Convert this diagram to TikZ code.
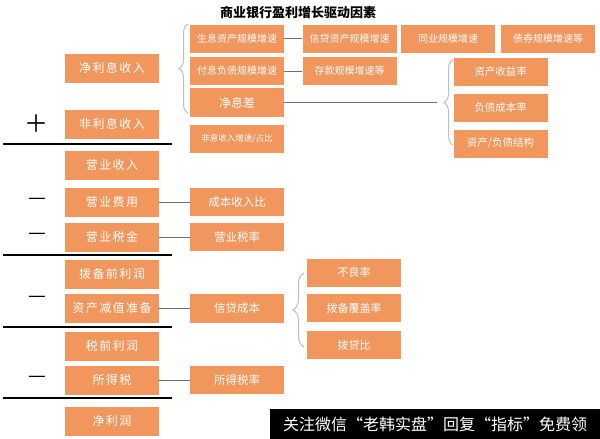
\documentclass[tikz,border=0pt]{standalone}
\usepackage{fontspec}
\setmainfont{Noto Sans CJK SC}
\usepackage{xcolor}
\definecolor{bankorange}{RGB}{241,150,92}
\definecolor{linkgray}{RGB}{110,110,110}
\definecolor{bracegray}{RGB}{190,190,190}
\usetikzlibrary{decorations.pathreplacing}

\tikzset{
  mainbox/.style={fill=bankorange, text=white, minimum width=94pt, minimum height=29pt,
                  inner sep=0pt, font=\fontsize{12}{14}\selectfont\addfontfeature{LetterSpace=12}},
  subbox/.style={fill=bankorange, text=white, minimum width=94pt, minimum height=28pt,
                 inner sep=0pt, font=\fontsize{10}{12}\selectfont},
  link/.style={draw=linkgray, line width=0.8pt},
  sepline/.style={draw=black, line width=1.8pt},
  bracket/.style={draw=bracegray, line width=1pt, decorate,
                  decoration={brace, amplitude=9pt}},
  sign/.style={font=\fontsize{20}{20}\selectfont, inner sep=0pt}
}

\begin{document}
\begin{tikzpicture}[x=1pt, y=-1pt]
\useasboundingbox[fill=white] (0,0) rectangle (600,439);

\node[font=\fontsize{13}{15}\selectfont\bfseries] (title) at (298,13) {商业银行盈利增长驱动因素};

% === Income statement column ===
\node[mainbox] (netint) at (112,68) {净利息收入};
\node[mainbox] (nonint) at (112,124) {非利息收入};
\node[mainbox] (oprev) at (112,165) {营业收入};
\node[mainbox] (opexp) at (112,202) {营业费用};
\node[mainbox] (optax) at (112,237) {营业税金};
\node[mainbox] (ppop) at (112,274) {拨备前利润};
\node[mainbox] (impair) at (112,308) {资产减值准备};
\node[mainbox] (pretax) at (112,346) {税前利润};
\node[mainbox] (inctax) at (112,380) {所得税};
\node[mainbox] (netprofit) at (112,421) {净利润};

% Signs and sum lines
\node[sign, font=\fontsize{24}{24}\selectfont] (plus) at (36,124) {＋};
\node[sign] (minusa) at (37,201) {—};
\node[sign] (minusb) at (37,236) {—};
\node[sign] (minusc) at (37,299) {—};
\node[sign] (minusd) at (37,379) {—};
\draw[sepline] (3,144) -- (172,144);
\draw[sepline] (3,255) -- (172,255);
\draw[sepline] (3,327) -- (172,327);
\draw[sepline] (3,398) -- (172,398);

% === Drivers ===
\node[subbox] (iea) at (237,38.5) {生息资产规模增速};
\node[subbox] (ibl) at (237,71) {付息负债规模增速};
\node[subbox, minimum height=29pt, font=\fontsize{12}{14}\selectfont] (nim) at (237,102.5) {净息差};
\node[subbox, font=\fontsize{8.5}{10}\selectfont] (nonintg) at (237,139) {非息收入增速/占比};
\node[subbox, font=\fontsize{11.5}{13}\selectfont] (cir) at (237,202) {成本收入比};
\node[subbox, font=\fontsize{11.5}{13}\selectfont] (taxrate) at (237,237) {营业税率};
\node[subbox, minimum height=29pt, font=\fontsize{11.5}{13}\selectfont] (credcost) at (237,308) {信贷成本};
\node[subbox, font=\fontsize{11.5}{13}\selectfont] (inctaxrate) at (237,380) {所得税率};

% Scale growth
\node[subbox] (loang) at (349.5,38.5) {信贷资产规模增速};
\node[subbox] (interbank) at (448,38.5) {同业规模增速};
\node[subbox] (bondg) at (548,38.5) {债券规模增速等};
\node[subbox] (depg) at (349.5,71) {存款规模增速等};

% Margin
\node[subbox, font=\fontsize{10.5}{12}\selectfont] (roa) at (500.5,72) {资产收益率};
\node[subbox, font=\fontsize{10.5}{12}\selectfont] (cof) at (500.5,107.5) {负债成本率};
\node[subbox, font=\fontsize{10.5}{12}\selectfont] (assetmix) at (500.5,143.5) {资产/负债结构};

% Credit quality
\node[subbox, font=\fontsize{11}{13}\selectfont] (npl) at (354,272.5) {不良率};
\node[subbox, font=\fontsize{11}{13}\selectfont] (cover) at (354,308) {拨备覆盖率};
\node[subbox, font=\fontsize{11}{13}\selectfont] (ldr) at (354,345) {拨贷比};

% Connectors
\draw[link] (iea) -- (loang);
\draw[link] (ibl) -- (depg);
\coordinate (nimend) at (437,102.5);
\draw[link] (nim) -- (nimend);
\draw[link] (opexp) -- (cir);
\draw[link] (optax) -- (taxrate);
\draw[link] (impair) -- (credcost);
\draw[link] (inctax) -- (inctaxrate);

% Braces
\draw[bracket] (188,113) -- (188,24);
\draw[bracket] (453,145) -- (453,60);
\draw[bracket, decoration={brace, amplitude=11pt}] (304,347) -- (304,273);

% Footer band
\fill[black] (270,409) rectangle (600,439);
\node[text=white, font=\fontsize{16}{18}\selectfont, inner sep=0pt] (footer) at (435,424)
     {关注微信“老韩实盘”回复“指标”免费领};

\end{tikzpicture}
\end{document}
